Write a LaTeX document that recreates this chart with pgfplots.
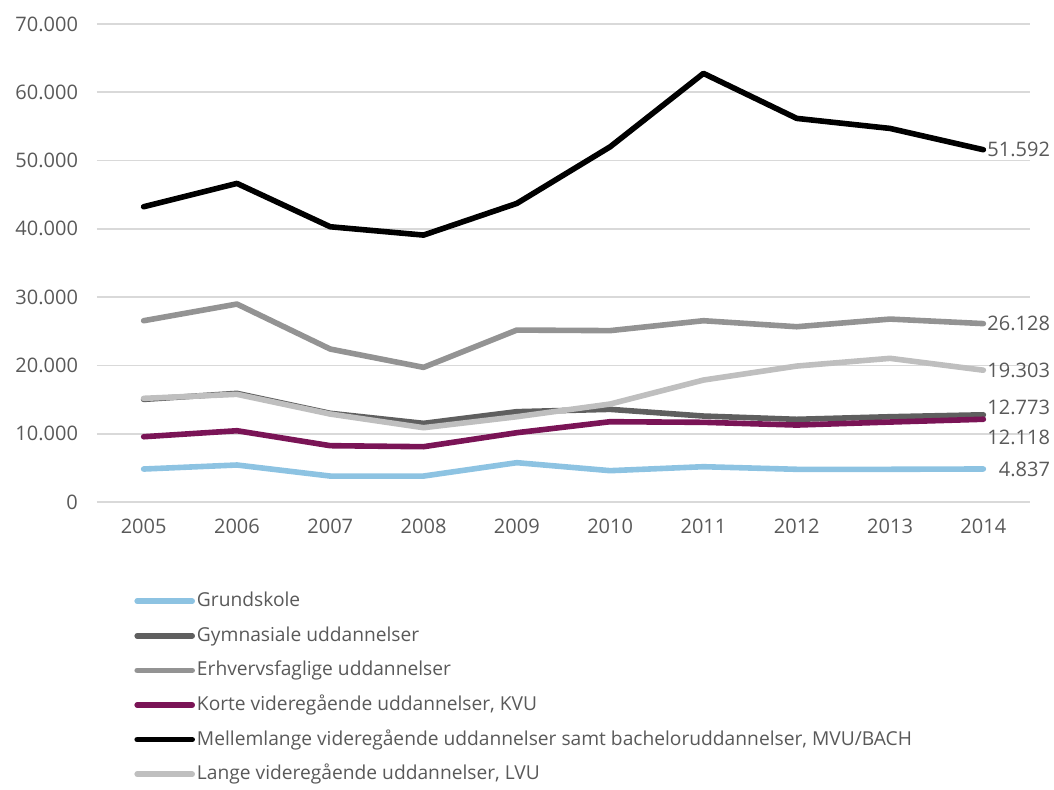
\documentclass[border=0pt]{standalone}
\usepackage{fontspec}
\setmainfont{Open Sans}
\usepackage{pgfplots}
\pgfplotsset{compat=1.18}

\definecolor{txt}{HTML}{595959}
\definecolor{gridc}{HTML}{D9D9D9}
\definecolor{grund}{HTML}{8DC3E2}
\definecolor{gym}{HTML}{5F5F5F}
\definecolor{erhv}{HTML}{939393}
\definecolor{kvu}{HTML}{7A1456}
\definecolor{mvu}{HTML}{000000}
\definecolor{lvu}{HTML}{BFBFBF}

\begin{document}
\begin{tikzpicture}
% page = 1054x789 px, 1pt = 2px
\useasboundingbox (-48.5pt,-143.5pt) rectangle (478.5pt,251pt);
\begin{axis}[
    at={(0pt,0pt)}, anchor=south west,
    width=466.5pt, height=239pt, scale only axis,
    xmin=2004.5, xmax=2014.5,
    ymin=0, ymax=70000,
    xtick={2005,2006,2007,2008,2009,2010,2011,2012,2013,2014},
    xticklabels={2005,2006,2007,2008,2009,2010,2011,2012,2013,2014},
    ytick={0,10000,20000,30000,40000,50000,60000,70000},
    scaled y ticks=false,
    yticklabel style={/pgf/number format/fixed, /pgf/number format/1000 sep={.}, xshift=-6pt},
    /pgf/number format/assume math mode=true,
    axis line style={draw=none},
    major tick length=0pt,
    ymajorgrids=true,
    grid style={color=gridc, line width=0.9pt},
    tick label style={font=\fontsize{10}{12}\selectfont, text=txt},
    xticklabel style={yshift=-5pt},
    every axis plot/.append style={line width=2.8pt, line join=round, line cap=round},
    legend style={
        at={(axis description cs:0,0)}, anchor=north west,
        xshift=15.5pt, yshift=-41.5pt,
        draw=none, fill=none,
        font=\fontsize{9.6}{11}\selectfont, text=txt,
        row sep=5.5pt,
        nodes={inner sep=1pt, text height=7.6pt, text depth=2.2pt},
        cells={anchor=west},
    },
    legend image code/.code={\draw[#1] (0pt,0pt) -- (27.5pt,0pt);},
    clip=false,
]
\addplot[color=grund] coordinates {
 (2005,4830) (2006,5420) (2007,3800) (2008,3800) (2009,5760)
 (2010,4590) (2011,5170) (2012,4790) (2013,4790) (2014,4837)};
\addlegendentry{Grundskole}
\addplot[color=gym] coordinates {
 (2005,15030) (2006,15910) (2007,12990) (2008,11520) (2009,13230)
 (2010,13570) (2011,12590) (2012,12110) (2013,12490) (2014,12773)};
\addlegendentry{Gymnasiale uddannelser}
\addplot[color=erhv] coordinates {
 (2005,26550) (2006,28990) (2007,22400) (2008,19720) (2009,25180)
 (2010,25100) (2011,26550) (2012,25670) (2013,26790) (2014,26128)};
\addlegendentry{Erhvervsfaglige uddannelser}
\addplot[color=kvu] coordinates {
 (2005,9560) (2006,10440) (2007,8250) (2008,8100) (2009,10150)
 (2010,11760) (2011,11670) (2012,11270) (2013,11710) (2014,12118)};
\addlegendentry{Korte videregående uddannelser, KVU}
\addplot[color=mvu] coordinates {
 (2005,43240) (2006,46660) (2007,40310) (2008,39090) (2009,43730)
 (2010,52020) (2011,62770) (2012,56180) (2013,54710) (2014,51592)};
\addlegendentry{Mellemlange videregående uddannelser samt bacheloruddannelser, MVU/BACH}
\addplot[color=lvu] coordinates {
 (2005,15180) (2006,15770) (2007,12880) (2008,10880) (2009,12490)
 (2010,14350) (2011,17860) (2012,19910) (2013,21040) (2014,19303)};
\addlegendentry{Lange videregående uddannelser, LVU}

\begin{scope}[every node/.style={anchor=east, text=txt, font=\fontsize{10}{12}\selectfont, inner sep=0pt, xshift=33.5pt}]
\node at (axis cs:2014,51592) {51.592};
\node at (axis cs:2014,26128) {26.128};
\node at (axis cs:2014,19303) {19.303};
\node[yshift=3.5pt] at (axis cs:2014,12773) {12.773};
\node[yshift=-9pt] at (axis cs:2014,12118) {12.118};
\node at (axis cs:2014,4837) {4.837};
\end{scope}
\end{axis}
\end{tikzpicture}
\end{document}
